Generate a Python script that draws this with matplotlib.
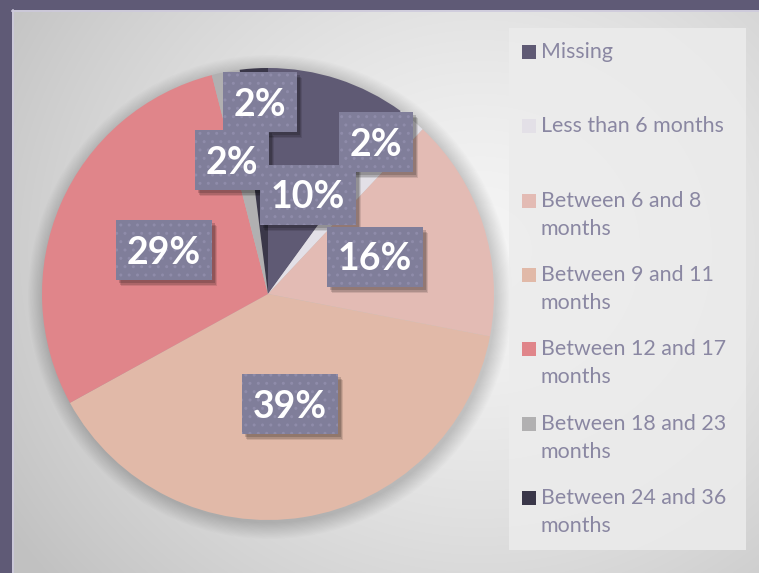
import textwrap
import numpy as np
import matplotlib
matplotlib.use("Agg")
import matplotlib.pyplot as plt
from matplotlib.patches import Rectangle, Circle

# ---------------- data ----------------
categories = ["Missing", "Less than 6 months", "Between 6 and 8 months",
              "Between 9 and 11 months", "Between 12 and 17 months",
              "Between 18 and 23 months", "Between 24 and 36 months"]
values = [10, 2, 16, 39, 29, 2, 2]
colors = ["#5f5a74", "#e3e0e7", "#e3bbb4", "#e1b9a8", "#e0858a", "#b1b0b1", "#3a3749"]

# label box centers (pixel positions in figure, style only)
label_px = [(308, 195), (376, 142), (375, 257), (290, 404), (164, 250), (232, 160), (260, 102)]

plt.rcParams["font.family"] = ["Lato", "DejaVu Sans"]

W, H = 759, 573
fig = plt.figure(figsize=(W / 100, H / 100), dpi=100)

# background axes in pixel coordinates
bg = fig.add_axes([0, 0, 1, 1])
bg.set_xlim(0, W)
bg.set_ylim(H, 0)
bg.axis("off")
bg.add_patch(Rectangle((0, 0), W, H, fc="#5f5a76", ec="none", zorder=0))

yy, xx = np.mgrid[10:H, 12:W]
d = np.hypot(xx - 480, (yy - 250) * 1.1)
t = np.clip(d / 560, 0, 1)
val = 0.96 - 0.2 * t ** 1.4
img = np.dstack([val, val, val])
bg.imshow(img, extent=(12, W, H, 10), aspect="auto", zorder=1, interpolation="bilinear")
bg.plot([12, W], [10.5, 10.5], color="#cdc9dc", lw=1.2, zorder=2)
bg.plot([12.5, 12.5], [10, H], color="#cdc9dc", lw=1.2, zorder=2)

# soft pie shadow
cx, cy, R = 268, 294, 226
for k in range(14):
    bg.add_patch(Circle((cx + 2, cy + 3), R + 16 - k * 1.2, fc="black", ec="none",
                        alpha=0.011, zorder=3))

# legend
bg.add_patch(Rectangle((509, 28), 237, 522, fc="#ececec", ec="none", alpha=0.85, zorder=3))
y0, step, line_h = 52, 74.3, 28
for i, (cat, col) in enumerate(zip(categories, colors)):
    y = y0 + i * step
    bg.add_patch(Rectangle((522, y - 7), 14, 14, fc=col, ec="none", zorder=4))
    for j, line in enumerate(textwrap.wrap(cat, width=18)):
        bg.text(541, y + j * line_h, line, fontsize=15.4, color="#8a87a2",
                va="center", ha="left", zorder=4)

# pie
pie_ax = fig.add_axes([(cx - R) / W, (H - cy - R) / H, 2 * R / W, 2 * R / H])
pie_ax.pie(values, colors=colors, startangle=90, counterclock=False, radius=1,
           wedgeprops=dict(linewidth=0))
pie_ax.set_xlim(-1, 1)
pie_ax.set_ylim(-1, 1)
pie_ax.set_aspect("equal")
pie_ax.axis("off")

# overlay for data labels (pixel coordinates)
ov = fig.add_axes([0, 0, 1, 1], zorder=5)
ov.set_xlim(0, W)
ov.set_ylim(H, 0)
ov.axis("off")
ov.patch.set_alpha(0)

fs = 27
box_h = 60
cap = 0.72 * fs * 100 / 72
fig.canvas.draw()
renderer = fig.canvas.get_renderer()
for v, (px, py) in zip(values, label_px):
    txt = f"{v}%"
    t_obj = ov.text(px, py + cap / 2, txt, ha="center", va="baseline", fontsize=fs,
                    fontweight="bold", color="white", zorder=8)
    tw = t_obj.get_window_extent(renderer=renderer).width
    bw = tw + 22
    for (ox, oy), a in [((5, 6), 0.10), ((4, 4.5), 0.14), ((3, 3), 0.16)]:
        ov.add_patch(Rectangle((px - bw / 2 + ox, py - box_h / 2 + oy), bw, box_h,
                               fc=(0, 0, 0, a), ec="none", zorder=6))
    ov.add_patch(Rectangle((px - bw / 2, py - box_h / 2), bw, box_h, fc="#807e9a",
                           ec="#8f8caa", lw=0, hatch="..", zorder=7))

fig.savefig("out.png", dpi=100)
